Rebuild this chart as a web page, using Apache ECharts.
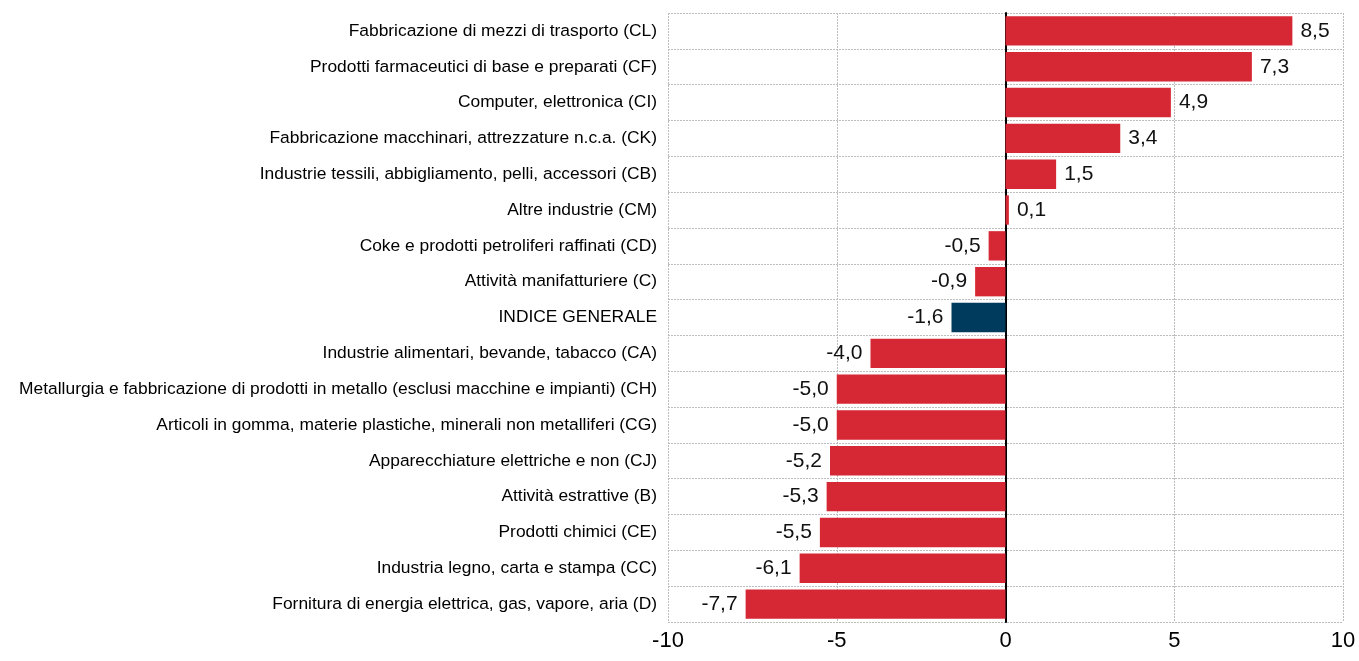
<!DOCTYPE html>
<html>
<head>
<meta charset="utf-8">
<script src="https://cdn.jsdelivr.net/npm/echarts@6/dist/echarts.min.js"></script>
<style>
  html, body { margin: 0; padding: 0; background: #fff; }
  #mychart { width: 1359px; height: 661px; }
</style>
</head>
<body>
<div id="mychart"></div>
<script>
// categorie dall'alto verso il basso
var categories = [
  'Fabbricazione di mezzi di trasporto (CL)',
  'Prodotti farmaceutici di base e preparati (CF)',
  'Computer, elettronica (CI)',
  'Fabbricazione macchinari, attrezzature n.c.a. (CK)',
  'Industrie tessili, abbigliamento, pelli, accessori (CB)',
  'Altre industrie (CM)',
  'Coke e prodotti petroliferi raffinati (CD)',
  'Attività manifatturiere (C)',
  'INDICE GENERALE',
  'Industrie alimentari, bevande, tabacco (CA)',
  'Metallurgia e fabbricazione di prodotti in metallo (esclusi macchine e impianti) (CH)',
  'Articoli in gomma, materie plastiche, minerali non metalliferi (CG)',
  'Apparecchiature elettriche e non (CJ)',
  'Attività estrattive (B)',
  'Prodotti chimici (CE)',
  'Industria legno, carta e stampa (CC)',
  'Fornitura di energia elettrica, gas, vapore, aria (D)'
];
var values = [8.5, 7.3, 4.9, 3.4, 1.5, 0.1, -0.5, -0.9, -1.6, -4.0, -5.0, -5.0, -5.2, -5.3, -5.5, -6.1, -7.7];
var xTicks = [-10, -5, 0, 5, 10];

var red = '#d62734';
var navy = '#003a5c';
var font = '"Liberation Sans Narrow", "Arial Narrow", "Liberation Sans", sans-serif';

var mychart = echarts.init(document.getElementById('mychart'));
var option = {
  animation: false,
  textStyle: { fontFamily: font },
  grid: { left: 668, right: 16, top: 13, bottom: 39 },
  xAxis: {
    type: 'value',
    min: xTicks[0],
    max: xTicks[xTicks.length - 1],
    interval: 5,
    axisLine: { show: false },
    axisTick: { show: false },
    axisLabel: { fontSize: 22, color: '#000', margin: 8, fontFamily: font },
    splitLine: { show: true, lineStyle: { color: '#bdbdbd', type: [2, 1], width: 1 } }
  },
  yAxis: {
    type: 'category',
    inverse: true,
    data: categories,
    axisLine: { show: true, onZero: true, lineStyle: { color: '#000', width: 2 } },
    axisTick: { show: false },
    axisLabel: { fontSize: 17.4, color: '#000', margin: 11, fontFamily: font },
    splitLine: { show: true, lineStyle: { color: '#bdbdbd', type: [2, 1], width: 1 } }
  },
  series: [{
    type: 'bar',
    barCategoryGap: '18%',
    data: values.map(function (v, i) {
      return {
        value: v,
        itemStyle: { color: categories[i] === 'INDICE GENERALE' ? navy : red },
        label: { position: v < 0 ? 'left' : 'right' }
      };
    }),
    label: {
      show: true,
      fontSize: 21,
      color: '#111',
      distance: 8,
      fontFamily: font,
      formatter: function (p) { return p.value.toFixed(1).replace('.', ','); }
    },
    z: 1
  }]
};
mychart.setOption(option);
</script>
</body>
</html>
